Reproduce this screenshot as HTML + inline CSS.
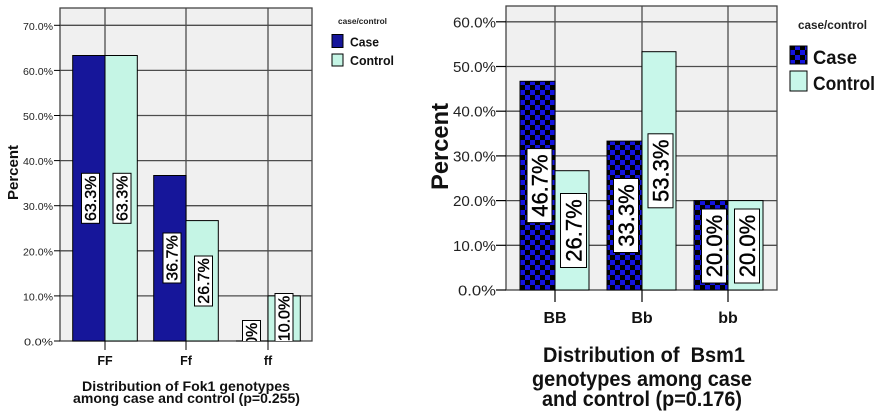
<!DOCTYPE html>
<html><head><meta charset="utf-8"><style>
html,body{margin:0;padding:0;background:#fff;}
svg{display:block;font-family:"Liberation Sans",Arial,sans-serif;}
</style></head><body>
<svg width="884" height="417" viewBox="0 0 884 417" xmlns="http://www.w3.org/2000/svg">
<defs>
<pattern id="chk" patternUnits="userSpaceOnUse" width="10" height="10" x="0" y="0">
<rect width="10" height="10" fill="#000"/>
<rect x="0" y="0" width="5" height="5" fill="#1414e0"/>
<rect x="5" y="5" width="5" height="5" fill="#1414e0"/>
</pattern>
<clipPath id="clipL"><rect x="60" y="8" width="252" height="333"/></clipPath>
<clipPath id="clipR"><rect x="506" y="6" width="271" height="284"/></clipPath>
</defs>
<rect width="884" height="417" fill="#fff"/>

<!-- LEFT CHART -->
<rect x="60" y="8" width="252" height="333" fill="#f0f0f0"/>
<g stroke="#4d4d4d" stroke-width="1.3">
<line x1="60" y1="295.9" x2="312" y2="295.9"/>
<line x1="60" y1="250.8" x2="312" y2="250.8"/>
<line x1="60" y1="205.7" x2="312" y2="205.7"/>
<line x1="60" y1="160.6" x2="312" y2="160.6"/>
<line x1="60" y1="115.5" x2="312" y2="115.5"/>
<line x1="60" y1="70.4" x2="312" y2="70.4"/>
<line x1="60" y1="25.3" x2="312" y2="25.3"/>
<line x1="105" y1="8" x2="105" y2="341"/>
<line x1="186" y1="8" x2="186" y2="341"/>
<line x1="268" y1="8" x2="268" y2="341"/>
</g>
<rect x="60" y="8" width="252" height="333" fill="none" stroke="#444" stroke-width="1.3"/>
<g stroke="#000" stroke-width="1">
<rect x="72.7" y="55.5" width="32.3" height="285.5" fill="#16169a"/>
<rect x="105" y="55.5" width="32.3" height="285.5" fill="#c5f5e5"/>
<rect x="153.7" y="175.5" width="32.3" height="165.5" fill="#16169a"/>
<rect x="186" y="220.6" width="32.3" height="120.4" fill="#c5f5e5"/>
<rect x="268" y="295.9" width="32.3" height="45.1" fill="#c5f5e5"/>
<line x1="236" y1="341" x2="268" y2="341"/>
</g>
<g clip-path="url(#clipL)" font-size="16" fill="#000">
<g transform="translate(90.5,198.3) rotate(-90)"><rect x="-25" y="-9" width="50" height="18" fill="#fff" stroke="#000"/><text x="0" y="5.7" text-anchor="middle" stroke="#000" stroke-width="0.4">63.3%</text></g>
<g transform="translate(122,198.3) rotate(-90)"><rect x="-25" y="-9" width="50" height="18" fill="#fff" stroke="#000"/><text x="0" y="5.7" text-anchor="middle" stroke="#000" stroke-width="0.4">63.3%</text></g>
<g transform="translate(172,258) rotate(-90)"><rect x="-25" y="-9" width="50" height="18" fill="#fff" stroke="#000"/><text x="0" y="5.7" text-anchor="middle" stroke="#000" stroke-width="0.4">36.7%</text></g>
<g transform="translate(203.5,281) rotate(-90)"><rect x="-25" y="-9" width="50" height="18" fill="#fff" stroke="#000"/><text x="0" y="5.7" text-anchor="middle" stroke="#000" stroke-width="0.4">26.7%</text></g>
<g transform="translate(251.5,341) rotate(-90)"><rect x="-20.5" y="-9" width="41" height="18" fill="#fff" stroke="#000"/><text x="0" y="5.7" text-anchor="middle" stroke="#000" stroke-width="0.4">0.0%</text></g>
<g transform="translate(284,318.5) rotate(-90)"><rect x="-25" y="-9" width="50" height="18" fill="#fff" stroke="#000"/><text x="0" y="5.7" text-anchor="middle" stroke="#000" stroke-width="0.4">10.0%</text></g>
</g>
<g stroke="#000" stroke-width="1">
<line x1="54" y1="341" x2="60" y2="341"/>
<line x1="54" y1="295.9" x2="60" y2="295.9"/>
<line x1="54" y1="250.8" x2="60" y2="250.8"/>
<line x1="54" y1="205.7" x2="60" y2="205.7"/>
<line x1="54" y1="160.6" x2="60" y2="160.6"/>
<line x1="54" y1="115.5" x2="60" y2="115.5"/>
<line x1="54" y1="70.4" x2="60" y2="70.4"/>
<line x1="54" y1="25.3" x2="60" y2="25.3"/>
<line x1="105" y1="341" x2="105" y2="350"/>
<line x1="186" y1="341" x2="186" y2="350"/>
<line x1="268" y1="341" x2="268" y2="350"/>
</g>
<g font-size="10.5" fill="#222" text-anchor="end">
<text x="53" y="345.5" textLength="29" lengthAdjust="spacingAndGlyphs">0.0%</text>
<text x="53" y="300.4" textLength="30" lengthAdjust="spacingAndGlyphs">10.0%</text>
<text x="53" y="255.3" textLength="30" lengthAdjust="spacingAndGlyphs">20.0%</text>
<text x="53" y="210.2" textLength="30" lengthAdjust="spacingAndGlyphs">30.0%</text>
<text x="53" y="165.1" textLength="30" lengthAdjust="spacingAndGlyphs">40.0%</text>
<text x="53" y="120" textLength="30" lengthAdjust="spacingAndGlyphs">50.0%</text>
<text x="53" y="74.9" textLength="30" lengthAdjust="spacingAndGlyphs">60.0%</text>
<text x="53" y="29.8" textLength="30" lengthAdjust="spacingAndGlyphs">70.0%</text>
</g>
<g font-size="12.5" font-weight="bold" fill="#111" text-anchor="middle">
<text x="105" y="365">FF</text>
<text x="186" y="365">Ff</text>
<text x="268" y="365">ff</text>
</g>
<text transform="translate(18,172.5) rotate(-90)" font-size="15" font-weight="bold" fill="#111" text-anchor="middle" textLength="55" lengthAdjust="spacingAndGlyphs">Percent</text>
<g font-size="13.5" font-weight="bold" fill="#111" text-anchor="middle">
<text x="186" y="391" textLength="208" lengthAdjust="spacingAndGlyphs">Distribution of Fok1 genotypes</text>
<text x="186.5" y="403" textLength="227" lengthAdjust="spacingAndGlyphs">among case and control (p=0.255)</text>
</g>
<text x="338" y="24" font-size="8.3" font-weight="bold" fill="#222" textLength="49" lengthAdjust="spacingAndGlyphs">case/control</text>
<rect x="332" y="34.5" width="11" height="13" fill="#16169a" stroke="#000"/>
<rect x="332" y="54" width="11" height="12" fill="#c5f5e5" stroke="#000"/>
<g font-size="12.5" font-weight="bold" fill="#111">
<text x="350" y="46.5" textLength="29" lengthAdjust="spacingAndGlyphs">Case</text>
<text x="350" y="65" textLength="44" lengthAdjust="spacingAndGlyphs">Control</text>
</g>

<!-- RIGHT CHART -->
<rect x="506" y="6" width="271" height="284" fill="#f0f0f0"/>
<g stroke="#4d4d4d" stroke-width="1.3">
<line x1="506" y1="245.3" x2="777" y2="245.3"/>
<line x1="506" y1="200.6" x2="777" y2="200.6"/>
<line x1="506" y1="155.9" x2="777" y2="155.9"/>
<line x1="506" y1="111.2" x2="777" y2="111.2"/>
<line x1="506" y1="66.5" x2="777" y2="66.5"/>
<line x1="506" y1="21.8" x2="777" y2="21.8"/>
<line x1="555" y1="6" x2="555" y2="290"/>
<line x1="642" y1="6" x2="642" y2="290"/>
<line x1="728" y1="6" x2="728" y2="290"/>
</g>
<rect x="506" y="6" width="271" height="284" fill="none" stroke="#444" stroke-width="1.3"/>
<g stroke="#000" stroke-width="1">
<rect x="520" y="81.3" width="35" height="208.7" fill="url(#chk)"/>
<rect x="555" y="170.7" width="34" height="119.3" fill="#c8f7ea"/>
<rect x="607" y="141.1" width="35" height="148.9" fill="url(#chk)"/>
<rect x="642" y="51.7" width="34" height="238.3" fill="#c8f7ea"/>
<rect x="694" y="200.6" width="34" height="89.4" fill="url(#chk)"/>
<rect x="728" y="200.6" width="35" height="89.4" fill="#c8f7ea"/>
</g>
<g clip-path="url(#clipR)" font-size="22" fill="#000">
<g transform="translate(539.5,185.6) rotate(-90)"><rect x="-37" y="-12.5" width="74" height="25" fill="#fff" stroke="#000"/><text x="0" y="7.9" text-anchor="middle" stroke="#000" stroke-width="0.4">46.7%</text></g>
<g transform="translate(573.5,230.5) rotate(-90)"><rect x="-37" y="-13" width="74" height="26" fill="#fff" stroke="#000"/><text x="0" y="7.9" text-anchor="middle" stroke="#000" stroke-width="0.4">26.7%</text></g>
<g transform="translate(626,215.5) rotate(-90)"><rect x="-37" y="-12.5" width="74" height="25" fill="#fff" stroke="#000"/><text x="0" y="7.9" text-anchor="middle" stroke="#000" stroke-width="0.4">33.3%</text></g>
<g transform="translate(660.5,170.8) rotate(-90)"><rect x="-37" y="-12.5" width="74" height="25" fill="#fff" stroke="#000"/><text x="0" y="7.9" text-anchor="middle" stroke="#000" stroke-width="0.4">53.3%</text></g>
<g transform="translate(714,246) rotate(-90)"><rect x="-37" y="-12.5" width="74" height="25" fill="#fff" stroke="#000"/><text x="0" y="7.9" text-anchor="middle" stroke="#000" stroke-width="0.4">20.0%</text></g>
<g transform="translate(747,246) rotate(-90)"><rect x="-37" y="-12.5" width="74" height="25" fill="#fff" stroke="#000"/><text x="0" y="7.9" text-anchor="middle" stroke="#000" stroke-width="0.4">20.0%</text></g>
</g>
<g stroke="#000" stroke-width="1.2">
<line x1="496" y1="290" x2="506" y2="290"/>
<line x1="496" y1="245.3" x2="506" y2="245.3"/>
<line x1="496" y1="200.6" x2="506" y2="200.6"/>
<line x1="496" y1="155.9" x2="506" y2="155.9"/>
<line x1="496" y1="111.2" x2="506" y2="111.2"/>
<line x1="496" y1="66.5" x2="506" y2="66.5"/>
<line x1="496" y1="21.8" x2="506" y2="21.8"/>
<line x1="555" y1="290" x2="555" y2="302"/>
<line x1="642" y1="290" x2="642" y2="302"/>
<line x1="728" y1="290" x2="728" y2="302"/>
</g>
<g font-size="14.5" fill="#222" text-anchor="end">
<text x="496" y="295.5" textLength="38" lengthAdjust="spacingAndGlyphs">0.0%</text>
<text x="496" y="250.8" textLength="43" lengthAdjust="spacingAndGlyphs">10.0%</text>
<text x="496" y="206.1" textLength="43" lengthAdjust="spacingAndGlyphs">20.0%</text>
<text x="496" y="161.4" textLength="43" lengthAdjust="spacingAndGlyphs">30.0%</text>
<text x="496" y="116.7" textLength="43" lengthAdjust="spacingAndGlyphs">40.0%</text>
<text x="496" y="72" textLength="43" lengthAdjust="spacingAndGlyphs">50.0%</text>
<text x="496" y="27.3" textLength="43" lengthAdjust="spacingAndGlyphs">60.0%</text>
</g>
<g font-size="16" font-weight="bold" fill="#111" text-anchor="middle">
<text x="555" y="323">BB</text>
<text x="642" y="323">Bb</text>
<text x="728" y="323">bb</text>
</g>
<text transform="translate(448,146.5) rotate(-90)" font-size="24" font-weight="bold" fill="#111" text-anchor="middle" textLength="87" lengthAdjust="spacingAndGlyphs">Percent</text>
<g font-size="21" font-weight="bold" fill="#111" text-anchor="middle">
<text x="644" y="362" textLength="202" lengthAdjust="spacingAndGlyphs" xml:space="preserve">Distribution of  Bsm1</text>
<text x="642" y="386" textLength="220" lengthAdjust="spacingAndGlyphs">genotypes among case</text>
<text x="642" y="406" textLength="200" lengthAdjust="spacingAndGlyphs">and control (p=0.176)</text>
</g>
<text x="798" y="29" font-size="11.5" font-weight="bold" fill="#222" textLength="69" lengthAdjust="spacingAndGlyphs">case/control</text>
<rect x="790" y="46" width="17" height="18" fill="url(#chk)" stroke="#000"/>
<rect x="790" y="71" width="17" height="20" fill="#c8f7ea" stroke="#000"/>
<g font-size="19" font-weight="bold" fill="#111">
<text x="813" y="64" textLength="44" lengthAdjust="spacingAndGlyphs">Case</text>
<text x="813" y="90" textLength="62" lengthAdjust="spacingAndGlyphs">Control</text>
</g>
</svg>
</body></html>
